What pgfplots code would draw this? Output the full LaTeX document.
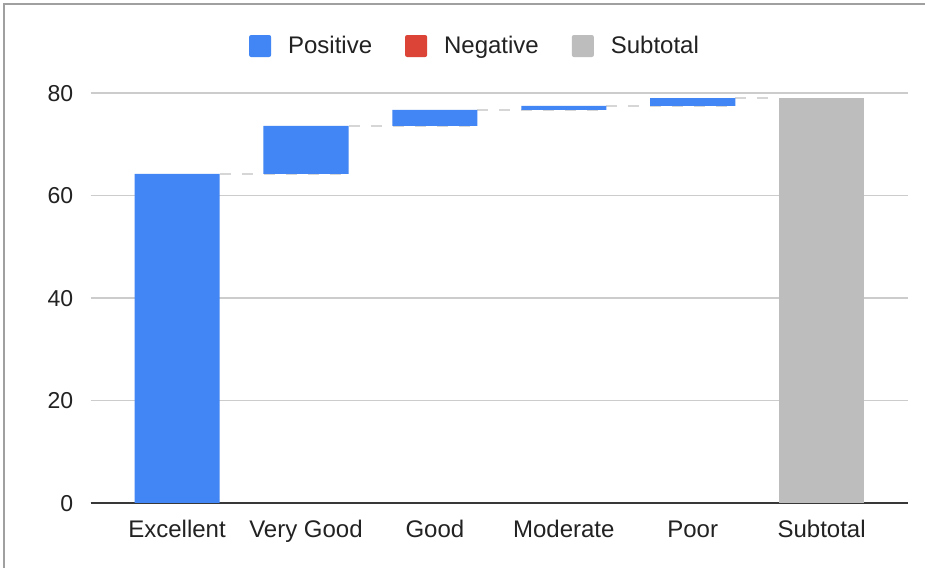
\documentclass[border=0pt]{standalone}
\usepackage{pgfplots}
\pgfplotsset{compat=1.18}
\usepackage{pgfplotstable}
\usepackage{fontspec}
\setmainfont{Liberation Sans}
\definecolor{pos}{HTML}{4285F4}
\definecolor{neg}{HTML}{DB4437}
\definecolor{subt}{HTML}{BDBDBD}
\definecolor{txt}{HTML}{222222}
\definecolor{gridc}{HTML}{CCCCCC}
\definecolor{conn}{HTML}{D6D6D6}
\definecolor{frame}{HTML}{A0A0A0}

\pgfplotstableread{
x base pos sub
0 0    64.2 0
1 64.2 9.4  0
2 73.6 3.1  0
3 76.7 0.8  0
4 77.5 1.5  0
5 0    0    79.0
}\wf

\newcommand{\lblfont}{\fontsize{24bp}{28bp}\selectfont}
\newcommand{\tickfont}{\fontsize{23bp}{27bp}\selectfont}

\pgfplotsset{
  common/.style={
    at={(90.7bp,65bp)}, anchor=south west,
    scale only axis, width=817.3bp, height=410bp,
    xmin=-0.67, xmax=5.67, ymin=0, ymax=80,
  }
}

\begin{document}
\begin{tikzpicture}
\path[use as bounding box] (0,0) rectangle (925bp,568bp);
\fill[white] (0,0) rectangle (925bp,568bp);
\draw[frame, line width=1.5bp] (4bp,0) -- (4bp,564bp) -- (925bp,564bp);

% background axis: grid, ticks, connectors
\begin{axis}[common,
  axis x line*=bottom, axis y line*=left,
  y axis line style={draw=none},
  x axis line style={draw=txt!90, line width=2bp},
  major tick length=0pt,
  ymajorgrids, major grid style={gridc, line width=1.3bp},
  ytick={0,20,40,60,80},
  xtick={0,1,2,3,4,5},
  xticklabels={Excellent,Very Good,Good,Moderate,Poor,Subtotal},
  /pgf/number format/assume math mode=true,
  every tick label/.append style={text=txt},
  xticklabel style={font=\lblfont, anchor=base, yshift=-34bp},
  yticklabel style={font=\tickfont, anchor=base east, xshift=-14bp, yshift=-8.3bp},
]
\addplot[conn, line width=2bp, dash pattern=on 11bp off 11bp] coordinates {(0.33,64.2) (1.33,64.2)};
\addplot[conn, line width=2bp, dash pattern=on 11bp off 11bp] coordinates {(1.33,73.6) (2.33,73.6)};
\addplot[conn, line width=2bp, dash pattern=on 11bp off 11bp] coordinates {(2.33,76.7) (3.33,76.7)};
\addplot[conn, line width=2bp, dash pattern=on 11bp off 11bp] coordinates {(3.33,77.5) (4.33,77.5)};
\addplot[conn, line width=2bp, dash pattern=on 11bp off 11bp] coordinates {(4.33,79.0) (4.67,79.0)};
\end{axis}

% bars
\begin{axis}[common,
  hide axis,
  ybar stacked, bar width=0.66,
  legend style={at={(0.469,1.1146)}, anchor=center, draw=none, fill=none,
    legend columns=-1, font=\lblfont, text=txt,
    nodes={inner sep=0pt},
    /tikz/every even column/.append style={column sep=33bp}},
  legend image code/.code={
    \fill[#1, rounded corners=2bp] (0bp,-11bp) rectangle (22bp,11bp);
    \path (39bp,0bp);
  },
]
\addplot[draw=none, fill=none, forget plot] table[x=x, y=base] {\wf};
\addplot[draw=none, fill=pos] table[x=x, y=pos] {\wf};
\addlegendentry{Positive}
\addlegendimage{draw=none, fill=neg}
\addlegendentry{Negative}
\addplot[draw=none, fill=subt] table[x=x, y=sub] {\wf};
\addlegendentry{Subtotal}
\end{axis}
\end{tikzpicture}
\end{document}
